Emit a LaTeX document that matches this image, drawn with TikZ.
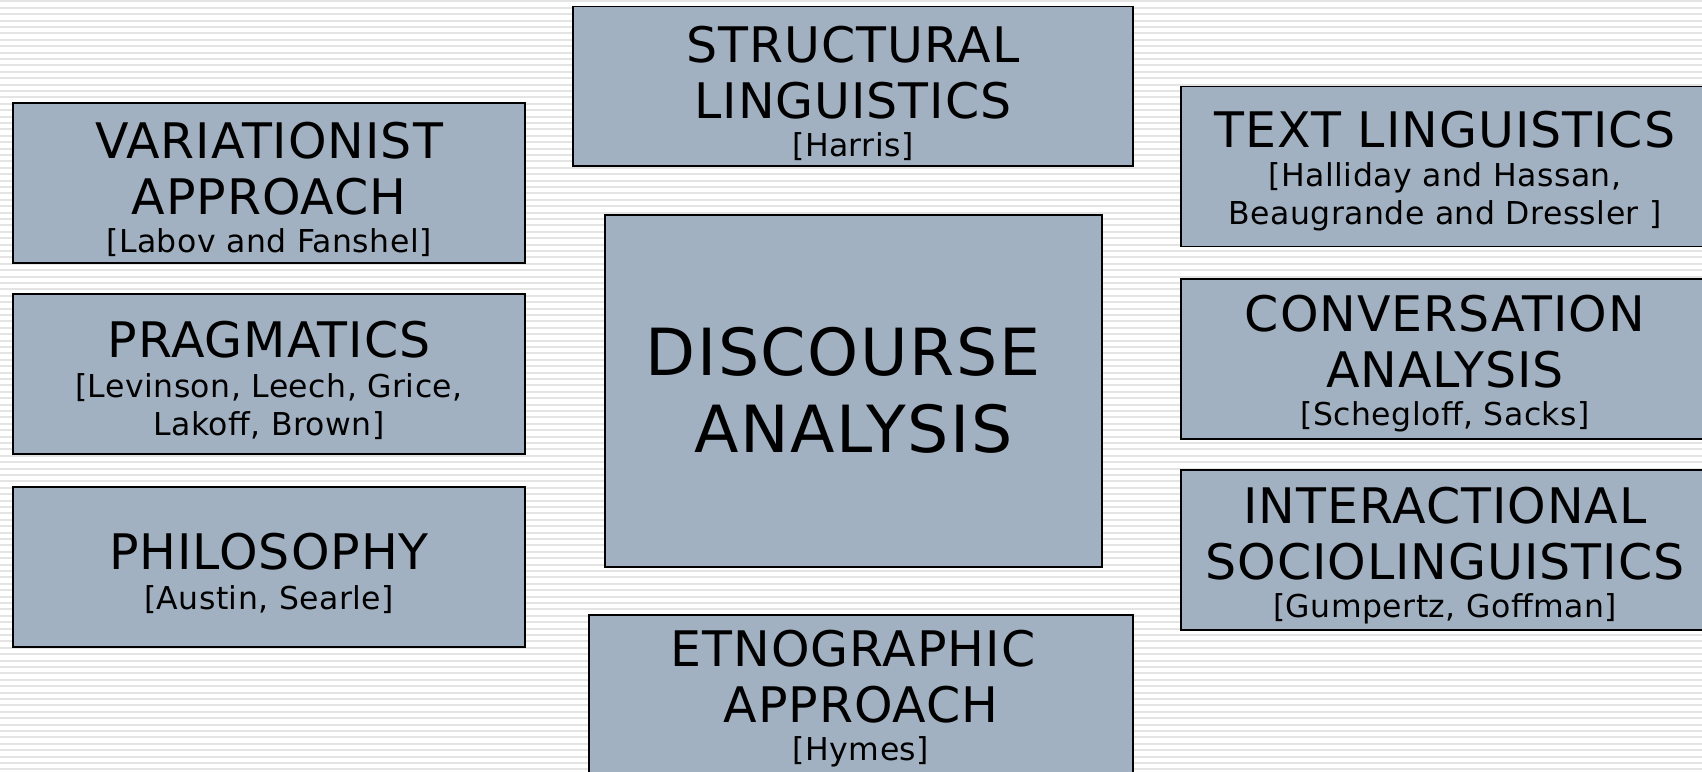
\documentclass[tikz,border=0pt]{standalone}
\usepackage{fontspec}
\setmainfont{DejaVu Sans}
\newfontfamily\titlefont[LetterSpace=2]{DejaVu Sans}
\newfontfamily\subfont[LetterSpace=1.5]{DejaVu Sans}
\newfontfamily\bigfont[LetterSpace=2.5]{DejaVu Sans}
\definecolor{boxfill}{RGB}{162,177,193}
\definecolor{stripecol}{RGB}{228,228,228}
\newcommand\boxtitle[1]{{\titlefont\fontsize{49}{56}\selectfont #1}}
\begin{document}
\begin{tikzpicture}[x=1pt,y=-1pt,
  box/.style={draw=black, line width=1.8pt, fill=boxfill, inner sep=0pt, rectangle},
  lbl/.style={align=center, inner sep=0pt, text=black, font=\subfont\fontsize{31.5}{38}\selectfont},
  biglbl/.style={align=center, inner sep=0pt, text=black, font=\bigfont\fontsize{65}{77}\selectfont},
  sidebox/.style={box, minimum width=512pt, minimum height=160pt},
  rightbox/.style={box, minimum width=528pt, minimum height=160pt}
]
\useasboundingbox (0,0) rectangle (1702,771);
\fill[white] (0,0) rectangle (1702,771);
\foreach \i in {0,...,120}
  \fill[stripecol] (0,{\i*6.4+0.3}) rectangle (1702,{\i*6.4+2.3});

% left column
\node[sidebox] (var) at (269,183) {};
\node[lbl] (var-t) at (269,189) {\boxtitle{VARIATIONIST}\\[18pt]\boxtitle{APPROACH}\\[0pt][Labov and Fanshel]};
\node[sidebox] (prag) at (269,374) {};
\node[lbl] (prag-t) at (269,380.5) {\boxtitle{PRAGMATICS}\\[2pt][Levinson, Leech, Grice,\\Lakoff, Brown]};
\node[sidebox] (phil) at (269,567) {};
\node[lbl] (phil-t) at (269,573) {\boxtitle{PHILOSOPHY}\\[2pt][Austin, Searle]};

% centre column
\node[box, minimum width=560pt, minimum height=159.5pt] (struct) at (853,86.25) {};
\node[lbl] (struct-t) at (853,93.5) {\boxtitle{STRUCTURAL}\\[18pt]\boxtitle{LINGUISTICS}\\[0pt][Harris]};
\node[box, minimum width=497pt, minimum height=352pt] (disc) at (853.5,391) {};
\node[biglbl] (disc-t) at (853.5,390.5) {DISCOURSE\hspace*{0.32em}\\ANALYSIS};
\node[box, minimum width=544pt, minimum height=190pt] (etno) at (861,710) {};
\node[lbl] (etno-t) at (861,699) {\boxtitle{ETNOGRAPHIC\hspace*{0.32em}}\\[18pt]\boxtitle{APPROACH}\\[0pt][Hymes]};

% right column
\node[rightbox] (text) at (1445,166.5) {};
\node[lbl] (text-t) at (1445,171.5) {\boxtitle{TEXT LINGUISTICS}\\[1pt][Halliday and Hassan,\\Beaugrande and Dressler ]};
\node[rightbox] (conv) at (1445,359) {};
\node[lbl] (conv-t) at (1445,364) {\boxtitle{CONVERSATION}\\[18pt]\boxtitle{ANALYSIS}\\[0pt][Schegloff, Sacks]};
\node[rightbox] (inter) at (1445,550) {};
\node[lbl] (inter-t) at (1445,556) {\boxtitle{INTERACTIONAL}\\[18pt]\boxtitle{SOCIOLINGUISTICS}\\[0pt][Gumpertz, Goffman]};
\end{tikzpicture}
\end{document}
